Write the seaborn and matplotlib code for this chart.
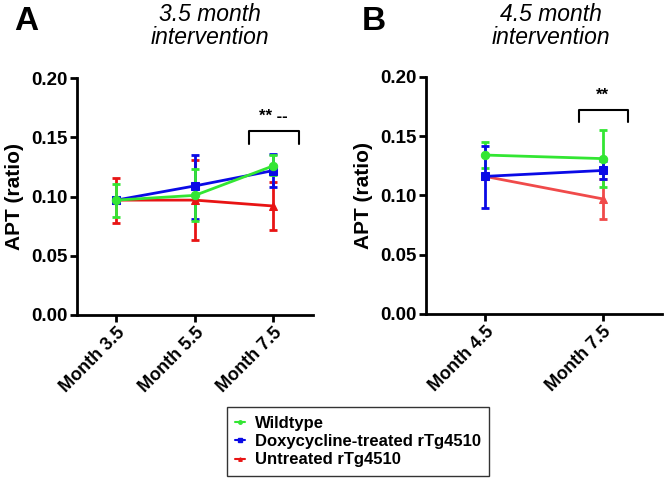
import numpy as np
import pandas as pd
import matplotlib
matplotlib.use("Agg")
import matplotlib.pyplot as plt
import seaborn as sns
from matplotlib.lines import Line2D

sns.set_style("ticks")
plt.rcParams['font.family'] = ['Liberation Sans', 'DejaVu Sans']
plt.rcParams['text.color'] = 'black'
plt.rcParams['axes.labelcolor'] = 'black'
plt.rcParams['xtick.color'] = 'black'
plt.rcParams['ytick.color'] = 'black'

groups = ["Wildtype", "Doxycycline-treated rTg4510", "Untreated rTg4510"]

# Panel A
months_a = ["Month 3.5", "Month 5.5", "Month 7.5"]
a_wt_mean = [0.097, 0.101, 0.126]
a_wt_lo = [0.083, 0.079, 0.118]
a_wt_hi = [0.111, 0.123, 0.135]
a_dox_mean = [0.097, 0.109, 0.122]
a_dox_lo = [0.095, 0.081, 0.108]
a_dox_hi = [0.099, 0.135, 0.136]
a_un_mean = [0.097, 0.097, 0.092]
a_un_lo = [0.078, 0.063, 0.072]
a_un_hi = [0.116, 0.131, 0.112]

# Panel B
months_b = ["Month 4.5", "Month 7.5"]
b_wt_mean = [0.134, 0.131]
b_wt_lo = [0.123, 0.107]
b_wt_hi = [0.145, 0.155]
b_dox_mean = [0.116, 0.121]
b_dox_lo = [0.089, 0.114]
b_dox_hi = [0.142, 0.129]
b_un_mean = [0.116, 0.097]
b_un_lo = [0.114, 0.080]
b_un_hi = [0.118, 0.114]

yticks = [0.00, 0.05, 0.10, 0.15, 0.20]

col_wt = "#33e633"
col_dox = "#0a0ae6"
col_un_a = "#e81414"
col_un_b = "#f04a4a"
markers = {"Wildtype": "o", "Doxycycline-treated rTg4510": "s", "Untreated rTg4510": "^"}

fig = plt.figure(figsize=(6.64, 4.8), dpi=100)
axA = fig.add_axes([0.116, 0.344, 0.355, 0.493])
axB = fig.add_axes([0.6416, 0.346, 0.355, 0.494])


def draw(ax, months, series, palette, order):
    rows = []
    for g, (m, lo, hi) in series.items():
        for i, mo in enumerate(months):
            rows.append({"group": g, "x": i, "month": mo, "APT": m[i], "lo": lo[i], "hi": hi[i]})
    df = pd.DataFrame(rows)
    for g in order:
        sub = df[df.group == g]
        ax.errorbar(sub.x, sub.APT, yerr=[sub.APT - sub.lo, sub.hi - sub.APT],
                    fmt="none", ecolor=palette[g], elinewidth=2, capsize=3, capthick=2, zorder=3)
        sns.lineplot(data=sub, x="x", y="APT", color=palette[g], marker=markers[g],
                     markersize=6, markeredgecolor=palette[g], linewidth=2, ax=ax,
                     legend=False, zorder=4, errorbar=None)
    ax.set_xlim(-0.5, len(months) - 0.5)
    ax.set_ylim(0, 0.2)
    ax.set_yticks(yticks)
    ax.set_yticklabels([f"{t:.2f}" for t in yticks], fontsize=13.5, fontweight="bold")
    ax.set_xticks(range(len(months)))
    ax.set_xticklabels(months, rotation=45, ha="right", rotation_mode="anchor",
                       fontsize=13, fontweight="bold")
    ax.set_xlabel("")
    ax.set_ylabel("APT (ratio)", fontsize=15, fontweight="bold", labelpad=5)
    for s in ["left", "bottom"]:
        ax.spines[s].set_linewidth(2)
        ax.spines[s].set_color("black")
    sns.despine(ax=ax)
    ax.tick_params(width=2, length=5, color="black", labelcolor="black", pad=2)


draw(axA, months_a,
     {"Wildtype": (a_wt_mean, a_wt_lo, a_wt_hi),
      "Doxycycline-treated rTg4510": (a_dox_mean, a_dox_lo, a_dox_hi),
      "Untreated rTg4510": (a_un_mean, a_un_lo, a_un_hi)},
     {"Wildtype": col_wt, "Doxycycline-treated rTg4510": col_dox, "Untreated rTg4510": col_un_a},
     ["Untreated rTg4510", "Doxycycline-treated rTg4510", "Wildtype"])
draw(axB, months_b,
     {"Wildtype": (b_wt_mean, b_wt_lo, b_wt_hi),
      "Doxycycline-treated rTg4510": (b_dox_mean, b_dox_lo, b_dox_hi),
      "Untreated rTg4510": (b_un_mean, b_un_lo, b_un_hi)},
     {"Wildtype": col_wt, "Doxycycline-treated rTg4510": col_dox, "Untreated rTg4510": col_un_b},
     ["Untreated rTg4510", "Wildtype", "Doxycycline-treated rTg4510"])

# significance brackets
axA.plot([1.69, 1.69, 2.32, 2.32], [0.1445, 0.155, 0.155, 0.1445], color="black", lw=1.5, clip_on=False)
axA.text(2.0, 0.161, "** --", ha="center", va="bottom", fontsize=12, fontweight="bold")
axB.plot([0.80, 0.80, 1.21, 1.21], [0.1615, 0.1716, 0.1716, 0.1615], color="black", lw=1.5, clip_on=False)
axB.text(1.0, 0.178, "**", ha="center", va="bottom", fontsize=12, fontweight="bold")

# titles and panel letters
fig.text(0.316, 0.945, "3.5 month\nintervention", ha="center", va="center",
         fontsize=16.5, fontstyle="italic", linespacing=1.0)
fig.text(0.83, 0.945, "4.5 month\nintervention", ha="center", va="center",
         fontsize=16.5, fontstyle="italic", linespacing=1.0)
fig.text(0.039, 0.955, "A", ha="center", va="center", fontsize=24, fontweight="bold")
fig.text(0.563, 0.955, "B", ha="center", va="center", fontsize=24, fontweight="bold")

handles = [Line2D([0], [0], color=col_wt, marker="o", markersize=2.5, lw=1.5),
           Line2D([0], [0], color=col_dox, marker="s", markersize=2.5, lw=1.5),
           Line2D([0], [0], color=col_un_a, marker="^", markersize=2.5, lw=1.5)]
leg = fig.legend(handles, groups, loc="center", bbox_to_anchor=(0.539, 0.08),
                 frameon=True, fancybox=False, handlelength=0.6, handletextpad=0.6,
                 prop={"weight": "bold", "size": 12}, borderpad=0.5, labelspacing=0.2)
leg.get_frame().set_edgecolor("black")
leg.get_frame().set_linewidth(1)

fig.savefig("out.png", dpi=100)
